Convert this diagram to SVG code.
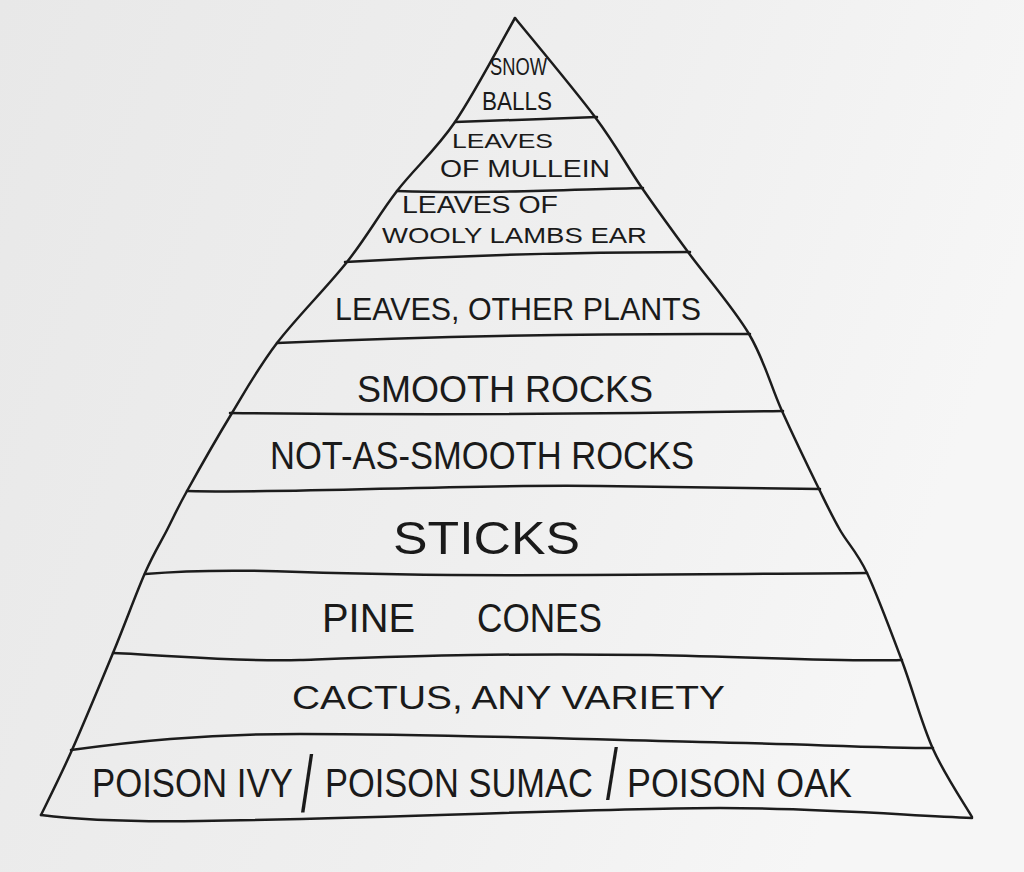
<svg xmlns="http://www.w3.org/2000/svg" width="1024" height="872" viewBox="0 0 1024 872">
<defs>
<linearGradient id="paper" x1="0" y1="0" x2="1" y2="0.3">
<stop offset="0" stop-color="#e8e8e8"/>
<stop offset="0.6" stop-color="#efefef"/>
<stop offset="1" stop-color="#f6f6f6"/>
</linearGradient>
<style>
.ln{fill:none;stroke:#1c1c1c;stroke-width:2.5;stroke-linecap:round;stroke-linejoin:round}
.t{font-family:"Liberation Sans",Arial,sans-serif;fill:#1a1a1a;font-weight:normal}
</style>
</defs>
<rect width="1024" height="872" fill="url(#paper)"/>
<g id="connectors">
<path class="ln" d="M41,815 C46.2,804.2 60,777 72,750 C84,723 100.8,682.5 113,653 C125.2,623.5 136,593.5 145,573 C154,552.5 160,543.7 167,530 C174,516.3 176.2,510.5 187,491 C197.8,471.5 217,437.7 232,413 C247,388.3 257.8,368.2 277,343 C296.2,317.8 327,287.3 347,262 C367,236.7 379,214.3 397,191 C415,167.7 435.3,150.8 455,122 C474.7,93.2 505,35.3 515,18"/>
<path class="ln" d="M515,18 C528.3,34.5 573.8,88.7 595,117 C616.2,145.3 626.5,165.5 642,188 C657.5,210.5 670.2,227.7 688,252 C705.8,276.3 733.3,307.5 749,334 C764.7,360.5 770.3,385.2 782,411 C793.7,436.8 809.3,469.2 819,489 C828.7,508.8 832,516 840,530 C848,544 856.7,551.2 867,573 C877.3,594.8 891,631.7 902,661 C913,690.3 921.3,723 933,749 C944.7,775 965.5,805.7 972,817"/>
<path class="ln" d="M455,122 C500,120 550,119 597,117"/>
<path class="ln" d="M397,191 C480,194 560,190 643,188"/>
<path class="ln" d="M345,262 C450,256 560,252 690,252"/>
<path class="ln" d="M277,343 Q500,333 750,334"/>
<path class="ln" d="M230,413 Q500,416 783,411"/>
<path class="ln" d="M187,491 C300,494 450,484 600,486 C700,488 780,489 820,489"/>
<path class="ln" d="M145,574 C180,571 220,569 300,572 C450,577 600,575 867,573"/>
<path class="ln" d="M113,653 C180,656 240,662 300,660 C420,656 500,653 650,655 C760,657 840,662 902,660"/>
<path class="ln" d="M71,750 C130,742 200,734 300,734 C450,734 600,740 700,742 C800,744 880,748 933,748"/>
<path class="ln" d="M41,815 C80,820 130,822 200,821 C400,818 600,808 720,808 C820,808 900,815 972,818"/>
</g>
<g id="tier-snowballs">
<text class="t" x="490" y="75" font-size="23" textLength="57" lengthAdjust="spacingAndGlyphs">SNOW</text>
<text class="t" x="482" y="110" font-size="25" textLength="70" lengthAdjust="spacingAndGlyphs">BALLS</text>
</g>
<g id="tier-mullein">
<text class="t" x="452" y="148" font-size="21" textLength="101" lengthAdjust="spacingAndGlyphs">LEAVES</text>
<text class="t" x="440" y="177" font-size="23" textLength="170" lengthAdjust="spacingAndGlyphs">OF MULLEIN</text>
</g>
<g id="tier-lambs-ear">
<text class="t" x="402" y="213" font-size="23" textLength="156" lengthAdjust="spacingAndGlyphs">LEAVES OF</text>
<text class="t" x="382" y="243" font-size="22" textLength="265" lengthAdjust="spacingAndGlyphs">WOOLY LAMBS EAR</text>
</g>
<g id="tier-other-plants">
<text class="t" x="335" y="320" font-size="31" textLength="366" lengthAdjust="spacingAndGlyphs">LEAVES, OTHER PLANTS</text>
</g>
<g id="tier-smooth-rocks">
<text class="t" x="357" y="402" font-size="37" textLength="296" lengthAdjust="spacingAndGlyphs">SMOOTH ROCKS</text>
</g>
<g id="tier-not-smooth-rocks">
<text class="t" x="270" y="469" font-size="39" textLength="424" lengthAdjust="spacingAndGlyphs">NOT-AS-SMOOTH ROCKS</text>
</g>
<g id="tier-sticks">
<text class="t" x="393" y="554" font-size="47" textLength="187" lengthAdjust="spacingAndGlyphs">STICKS</text>
</g>
<g id="tier-pine-cones">
<text class="t" y="632" font-size="41"><tspan x="322" textLength="93" lengthAdjust="spacingAndGlyphs">PINE</tspan> <tspan x="477" textLength="125" lengthAdjust="spacingAndGlyphs">CONES</tspan></text>
</g>
<g id="tier-cactus">
<text class="t" x="292" y="709" font-size="34" textLength="433" lengthAdjust="spacingAndGlyphs">CACTUS, ANY VARIETY</text>
</g>
<g id="tier-poison">
<text class="t" transform="translate(92,797) scale(0.869,1)" x="0" y="0" font-size="40">POISON IVY</text>
<text class="t" transform="translate(301,812) scale(1,1.8)" x="0" y="0" font-size="44">/</text>
<text class="t" transform="translate(325,797) scale(0.861,1)" x="0" y="0" font-size="40">POISON SUMAC</text>
<text class="t" transform="translate(606,799) scale(1,1.7)" x="0" y="0" font-size="43">/</text>
<text class="t" transform="translate(627,797) scale(0.896,1)" x="0" y="0" font-size="40">POISON OAK</text>
</g>
</svg>
